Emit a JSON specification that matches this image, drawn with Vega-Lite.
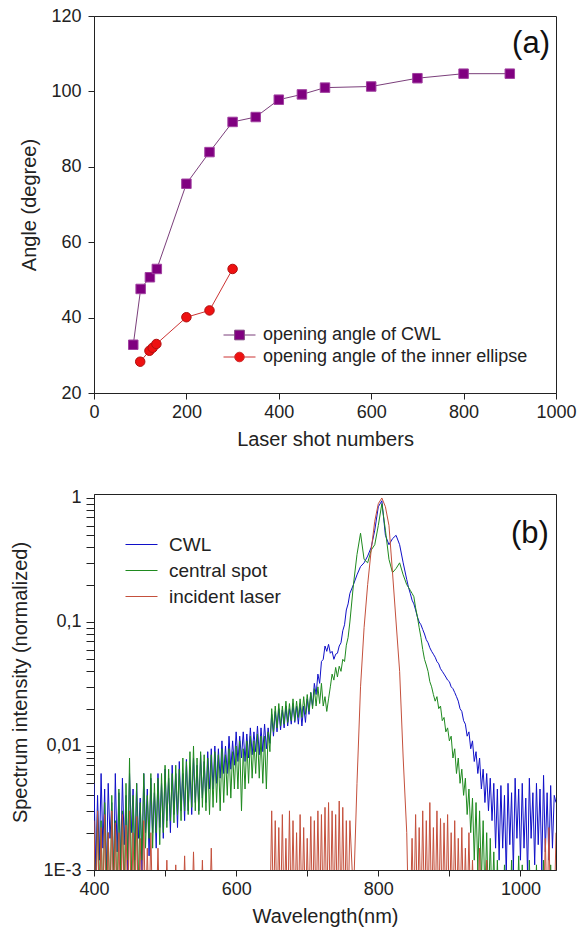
{
  "$schema": "https://vega.github.io/schema/vega-lite/v6.json",
  "padding": {"left": 10, "top": 6, "right": 5, "bottom": 5},
  "spacing": 38,
  "resolve": {
    "scale": {"color": "independent", "fill": "independent", "stroke": "independent", "shape": "independent"},
    "legend": {"color": "independent", "fill": "independent", "stroke": "independent", "shape": "independent"}
  },
  "config": {
    "font": "Liberation Sans",
    "view": {"stroke": "#222", "strokeWidth": 1},
    "axis": {"grid": false, "domainColor": "#222", "tickColor": "#222", "labelColor": "#222", "titleColor": "#222", "labelFont": "Liberation Sans", "titleFont": "Liberation Sans", "labelFontSize": 18, "titleFontSize": 20, "titleFontWeight": "normal", "tickSize": 6, "domainWidth": 1, "tickWidth": 1, "labelFlush": false},
    "legend": {"labelFont": "Liberation Sans", "labelColor": "#222", "labelLimit": 400}
  },
  "vconcat": [
    {
      "width": 462,
      "height": 377,
      "layer": [
        {
          "data": {"name": "angles", "values": [
            {"shots": 85, "angle": 32.8, "series": "opening angle of CWL"},
            {"shots": 101, "angle": 47.6, "series": "opening angle of CWL"},
            {"shots": 121, "angle": 50.7, "series": "opening angle of CWL"},
            {"shots": 136, "angle": 52.9, "series": "opening angle of CWL"},
            {"shots": 200, "angle": 75.5, "series": "opening angle of CWL"},
            {"shots": 250, "angle": 83.9, "series": "opening angle of CWL"},
            {"shots": 300, "angle": 91.9, "series": "opening angle of CWL"},
            {"shots": 350, "angle": 93.2, "series": "opening angle of CWL"},
            {"shots": 400, "angle": 97.8, "series": "opening angle of CWL"},
            {"shots": 450, "angle": 99.2, "series": "opening angle of CWL"},
            {"shots": 500, "angle": 101.0, "series": "opening angle of CWL"},
            {"shots": 600, "angle": 101.3, "series": "opening angle of CWL"},
            {"shots": 700, "angle": 103.5, "series": "opening angle of CWL"},
            {"shots": 800, "angle": 104.7, "series": "opening angle of CWL"},
            {"shots": 900, "angle": 104.7, "series": "opening angle of CWL"},
            {"shots": 100, "angle": 28.3, "series": "opening angle of the inner ellipse"},
            {"shots": 120, "angle": 31.2, "series": "opening angle of the inner ellipse"},
            {"shots": 127, "angle": 32.0, "series": "opening angle of the inner ellipse"},
            {"shots": 135, "angle": 33.0, "series": "opening angle of the inner ellipse"},
            {"shots": 200, "angle": 40.1, "series": "opening angle of the inner ellipse"},
            {"shots": 250, "angle": 41.9, "series": "opening angle of the inner ellipse"},
            {"shots": 300, "angle": 52.9, "series": "opening angle of the inner ellipse"}
          ]},
          "mark": {"type": "line", "strokeWidth": 1},
          "encoding": {
            "x": {"field": "shots", "type": "quantitative", "scale": {"domain": [0, 1000], "nice": false}, "axis": {"values": [0, 200, 400, 600, 800, 1000], "format": "d", "title": "Laser shot numbers", "labelPadding": 4, "titlePadding": 8}},
            "y": {"field": "angle", "type": "quantitative", "scale": {"domain": [20, 120], "nice": false, "zero": false}, "axis": {"values": [20, 40, 60, 80, 100, 120], "title": "Angle (degree)", "labelPadding": 7, "titlePadding": 11}},
            "color": {"field": "series", "type": "nominal", "scale": {"domain": ["opening angle of CWL", "opening angle of the inner ellipse"], "range": ["#7b3f7b", "#cc3333"]},
              "legend": {"orient": "none", "legendX": 136.5, "legendY": 310, "title": null, "labelFontSize": 18, "symbolType": "M-2,0H2", "symbolSize": 256, "symbolStrokeWidth": 1, "labelOffset": 14.5, "rowPadding": 4, "padding": 0,
                "encode": {"symbols": {"update": {
                  "shape": {"signal": "datum.value == 'opening angle of CWL' ? 'M-2,0H-0.6M0.6,0H2M-0.6,-0.6H0.6V0.6H-0.6Z' : 'M-2,0H-0.6M0.6,0H2M0.6,0A0.6,0.6 0 1,1 -0.6,0A0.6,0.6 0 1,1 0.6,0Z'"},
                  "fill": {"signal": "datum.value == 'opening angle of CWL' ? '#800080' : '#ee1111'"},
                  "stroke": {"signal": "datum.value == 'opening angle of CWL' ? '#7b3f7b' : '#cc3333'"},
                  "strokeWidth": {"value": 1},
                  "opacity": {"value": 1},
                  "fillOpacity": {"value": 1}
                }}}}}
          }
        },
        {
          "data": {"name": "angles"},
          "transform": [{"filter": "datum.series == 'opening angle of CWL'"}],
          "mark": {"type": "point", "shape": "square", "filled": true, "fill": "#800080", "stroke": "#a040a0", "size": 90, "strokeWidth": 1, "opacity": 1},
          "encoding": {
            "x": {"field": "shots", "type": "quantitative"},
            "y": {"field": "angle", "type": "quantitative"}
          }
        },
        {
          "data": {"name": "angles"},
          "transform": [{"filter": "datum.series == 'opening angle of the inner ellipse'"}],
          "mark": {"type": "point", "shape": "circle", "filled": true, "fill": "#ee1111", "stroke": "#b01010", "size": 90, "strokeWidth": 1, "opacity": 1},
          "encoding": {
            "x": {"field": "shots", "type": "quantitative"},
            "y": {"field": "angle", "type": "quantitative"}
          }
        },
        {
          "data": {"values": [{}]},
          "mark": {"type": "text", "text": "(a)", "fontSize": 31, "align": "right", "baseline": "alphabetic", "font": "Liberation Sans", "color": "#111"},
          "encoding": {"x": {"datum": 987}, "y": {"datum": 110.2}}
        }
      ]
    },
    {
      "width": 462,
      "height": 376,
      "layer": [
        {
          "data": {"values": [
            {"w": 400, "cwl": 0.005, "spot": 0.002, "laser": 0.0025},
            {"w": 402.5, "cwl": 0.001, "spot": 0.0005, "laser": 0.0004},
            {"w": 405, "cwl": 0.004, "spot": 0.003, "laser": 0.003},
            {"w": 407.5, "cwl": 0.0012, "spot": 0.0007, "laser": 0.0004},
            {"w": 410, "cwl": 0.006, "spot": 0.0025, "laser": 0.0022},
            {"w": 412.5, "cwl": 0.0015, "spot": 0.0004, "laser": 0.0005},
            {"w": 415, "cwl": 0.0045, "spot": 0.0035, "laser": 0.0028},
            {"w": 417.5, "cwl": 0.0009, "spot": 0.0008, "laser": 0.0004},
            {"w": 420, "cwl": 0.005, "spot": 0.002, "laser": 0.002},
            {"w": 422.5, "cwl": 0.0018, "spot": 0.0005, "laser": 0.0004},
            {"w": 425, "cwl": 0.0035, "spot": 0.004, "laser": 0.003},
            {"w": 427.5, "cwl": 0.0008, "spot": 0.0009, "laser": 0.0005},
            {"w": 430, "cwl": 0.006, "spot": 0.0025, "laser": 0.0024},
            {"w": 432.5, "cwl": 0.0014, "spot": 0.0005, "laser": 0.0004},
            {"w": 435, "cwl": 0.0042, "spot": 0.0045, "laser": 0.002},
            {"w": 437.5, "cwl": 0.0011, "spot": 0.001, "laser": 0.0004},
            {"w": 440, "cwl": 0.0055, "spot": 0.003, "laser": 0.0028},
            {"w": 442.5, "cwl": 0.0016, "spot": 0.0006, "laser": 0.0004},
            {"w": 445, "cwl": 0.004, "spot": 0.005, "laser": 0.0023},
            {"w": 447.5, "cwl": 0.001, "spot": 0.0012, "laser": 0.0005},
            {"w": 450, "cwl": 0.006, "spot": 0.008, "laser": 0.003},
            {"w": 452.5, "cwl": 0.002, "spot": 0.0008, "laser": 0.0004},
            {"w": 455, "cwl": 0.0045, "spot": 0.004, "laser": 0.002},
            {"w": 457.5, "cwl": 0.0012, "spot": 0.001, "laser": 0.0004},
            {"w": 460, "cwl": 0.005, "spot": 0.005, "laser": 0.0027},
            {"w": 462.5, "cwl": 0.0018, "spot": 0.0007, "laser": 0.0004},
            {"w": 465, "cwl": 0.0038, "spot": 0.0035, "laser": 0.0018},
            {"w": 467.5, "cwl": 0.001, "spot": 0.0012, "laser": 0.0004},
            {"w": 470, "cwl": 0.006, "spot": 0.006, "laser": 0.0025},
            {"w": 472.5, "cwl": 0.002, "spot": 0.0015, "laser": 0.0004},
            {"w": 475, "cwl": 0.0045, "spot": 0.004, "laser": 0.0015},
            {"w": 477.5, "cwl": 0.0013, "spot": 0.0018, "laser": 0.0004},
            {"w": 480, "cwl": 0.0055, "spot": 0.006, "laser": 0.002},
            {"w": 482.5, "cwl": 0.002, "spot": 0.0015, "laser": 0.0004},
            {"w": 485, "cwl": 0.0042, "spot": 0.005, "laser": 0.0004},
            {"w": 487.5, "cwl": 0.0015, "spot": 0.002, "laser": 0.0004},
            {"w": 490, "cwl": 0.006, "spot": 0.0055, "laser": 0.0015},
            {"w": 492.5, "cwl": 0.0022, "spot": 0.0016, "laser": 0.0004},
            {"w": 495, "cwl": 0.005, "spot": 0.006, "laser": 0.0004},
            {"w": 497.5, "cwl": 0.0018, "spot": 0.002, "laser": 0.0004},
            {"w": 500, "cwl": 0.0065, "spot": 0.007, "laser": 0.0004},
            {"w": 502.5, "cwl": 0.0025, "spot": 0.0022, "laser": 0.0012},
            {"w": 505, "cwl": 0.0055, "spot": 0.0065, "laser": 0.0004},
            {"w": 507.5, "cwl": 0.002, "spot": 0.0025, "laser": 0.0004},
            {"w": 510, "cwl": 0.007, "spot": 0.006, "laser": 0.0004},
            {"w": 512.5, "cwl": 0.0028, "spot": 0.0024, "laser": 0.0004},
            {"w": 515, "cwl": 0.006, "spot": 0.007, "laser": 0.0011},
            {"w": 517.5, "cwl": 0.0022, "spot": 0.0028, "laser": 0.0004},
            {"w": 520, "cwl": 0.0075, "spot": 0.0065, "laser": 0.0004},
            {"w": 522.5, "cwl": 0.003, "spot": 0.0025, "laser": 0.0004},
            {"w": 525, "cwl": 0.006, "spot": 0.008, "laser": 0.0004},
            {"w": 527.5, "cwl": 0.0025, "spot": 0.003, "laser": 0.0013},
            {"w": 530, "cwl": 0.0078, "spot": 0.0075, "laser": 0.0004},
            {"w": 532.5, "cwl": 0.003, "spot": 0.0028, "laser": 0.0004},
            {"w": 535, "cwl": 0.0065, "spot": 0.009, "laser": 0.0004},
            {"w": 537.5, "cwl": 0.0028, "spot": 0.0032, "laser": 0.0004},
            {"w": 540, "cwl": 0.008, "spot": 0.01, "laser": 0.0014},
            {"w": 542.5, "cwl": 0.0035, "spot": 0.003, "laser": 0.0004},
            {"w": 545, "cwl": 0.007, "spot": 0.008, "laser": 0.0004},
            {"w": 547.5, "cwl": 0.003, "spot": 0.0028, "laser": 0.0004},
            {"w": 550, "cwl": 0.0085, "spot": 0.009, "laser": 0.0004},
            {"w": 552.5, "cwl": 0.0038, "spot": 0.0032, "laser": 0.0012},
            {"w": 555, "cwl": 0.0075, "spot": 0.0085, "laser": 0.0004},
            {"w": 557.5, "cwl": 0.0035, "spot": 0.003, "laser": 0.0004},
            {"w": 560, "cwl": 0.009, "spot": 0.008, "laser": 0.0004},
            {"w": 562.5, "cwl": 0.0045, "spot": 0.0028, "laser": 0.0004},
            {"w": 565, "cwl": 0.0095, "spot": 0.0085, "laser": 0.0015},
            {"w": 567.5, "cwl": 0.0045, "spot": 0.0032, "laser": 0.0004},
            {"w": 570, "cwl": 0.01, "spot": 0.009, "laser": 0.0004},
            {"w": 572.5, "cwl": 0.005, "spot": 0.0035, "laser": 0.0004},
            {"w": 575, "cwl": 0.0095, "spot": 0.0085, "laser": 0.0004},
            {"w": 577.5, "cwl": 0.0055, "spot": 0.003, "laser": 0.0004},
            {"w": 580, "cwl": 0.011, "spot": 0.0095, "laser": 0.0004},
            {"w": 582.5, "cwl": 0.006, "spot": 0.0035, "laser": 0.0004},
            {"w": 585, "cwl": 0.01, "spot": 0.0085, "laser": 0.0004},
            {"w": 587.5, "cwl": 0.006, "spot": 0.004, "laser": 0.0004},
            {"w": 590, "cwl": 0.012, "spot": 0.0095, "laser": 0.0004},
            {"w": 592.5, "cwl": 0.0065, "spot": 0.0038, "laser": 0.0004},
            {"w": 595, "cwl": 0.011, "spot": 0.009, "laser": 0.0004},
            {"w": 597.5, "cwl": 0.007, "spot": 0.0045, "laser": 0.0004},
            {"w": 600, "cwl": 0.013, "spot": 0.01, "laser": 0.0004},
            {"w": 602.5, "cwl": 0.0075, "spot": 0.0045, "laser": 0.0004},
            {"w": 605, "cwl": 0.012, "spot": 0.011, "laser": 0.0004},
            {"w": 607.5, "cwl": 0.008, "spot": 0.003, "laser": 0.0004},
            {"w": 610, "cwl": 0.013, "spot": 0.0095, "laser": 0.0004},
            {"w": 612.5, "cwl": 0.0075, "spot": 0.0045, "laser": 0.0004},
            {"w": 615, "cwl": 0.0125, "spot": 0.011, "laser": 0.0004},
            {"w": 617.5, "cwl": 0.008, "spot": 0.005, "laser": 0.0004},
            {"w": 620, "cwl": 0.014, "spot": 0.012, "laser": 0.0004},
            {"w": 622.5, "cwl": 0.0085, "spot": 0.0055, "laser": 0.0004},
            {"w": 625, "cwl": 0.013, "spot": 0.011, "laser": 0.0004},
            {"w": 627.5, "cwl": 0.009, "spot": 0.006, "laser": 0.0004},
            {"w": 630, "cwl": 0.0145, "spot": 0.0125, "laser": 0.0004},
            {"w": 632.5, "cwl": 0.0085, "spot": 0.0055, "laser": 0.0004},
            {"w": 635, "cwl": 0.014, "spot": 0.012, "laser": 0.0004},
            {"w": 637.5, "cwl": 0.009, "spot": 0.005, "laser": 0.0004},
            {"w": 640, "cwl": 0.015, "spot": 0.012, "laser": 0.0004},
            {"w": 642.5, "cwl": 0.0095, "spot": 0.0045, "laser": 0.0004},
            {"w": 645, "cwl": 0.014, "spot": 0.013, "laser": 0.0004},
            {"w": 647.5, "cwl": 0.0105, "spot": 0.009, "laser": 0.0004},
            {"w": 650, "cwl": 0.018, "spot": 0.02, "laser": 0.003},
            {"w": 652.5, "cwl": 0.012, "spot": 0.013, "laser": 0.0004},
            {"w": 655, "cwl": 0.019, "spot": 0.021, "laser": 0.0025},
            {"w": 657.5, "cwl": 0.013, "spot": 0.014, "laser": 0.0004},
            {"w": 660, "cwl": 0.02, "spot": 0.022, "laser": 0.0022},
            {"w": 662.5, "cwl": 0.0135, "spot": 0.0145, "laser": 0.0004},
            {"w": 665, "cwl": 0.0195, "spot": 0.021, "laser": 0.0028},
            {"w": 667.5, "cwl": 0.014, "spot": 0.015, "laser": 0.0004},
            {"w": 670, "cwl": 0.021, "spot": 0.023, "laser": 0.0018},
            {"w": 672.5, "cwl": 0.0145, "spot": 0.0155, "laser": 0.0004},
            {"w": 675, "cwl": 0.02, "spot": 0.022, "laser": 0.003},
            {"w": 677.5, "cwl": 0.015, "spot": 0.016, "laser": 0.0004},
            {"w": 680, "cwl": 0.022, "spot": 0.024, "laser": 0.0025},
            {"w": 682.5, "cwl": 0.0155, "spot": 0.016, "laser": 0.0004},
            {"w": 685, "cwl": 0.021, "spot": 0.023, "laser": 0.002},
            {"w": 687.5, "cwl": 0.015, "spot": 0.017, "laser": 0.0004},
            {"w": 690, "cwl": 0.022, "spot": 0.024, "laser": 0.0028},
            {"w": 692.5, "cwl": 0.0145, "spot": 0.017, "laser": 0.0004},
            {"w": 695, "cwl": 0.021, "spot": 0.025, "laser": 0.0022},
            {"w": 697.5, "cwl": 0.0155, "spot": 0.018, "laser": 0.0004},
            {"w": 700, "cwl": 0.024, "spot": 0.026, "laser": 0.0018},
            {"w": 702.5, "cwl": 0.018, "spot": 0.019, "laser": 0.0004},
            {"w": 705, "cwl": 0.027, "spot": 0.027, "laser": 0.0027},
            {"w": 707.5, "cwl": 0.021, "spot": 0.02, "laser": 0.0004},
            {"w": 710, "cwl": 0.032, "spot": 0.029, "laser": 0.0025},
            {"w": 712.5, "cwl": 0.026, "spot": 0.021, "laser": 0.0004},
            {"w": 715, "cwl": 0.038, "spot": 0.03, "laser": 0.003},
            {"w": 717.5, "cwl": 0.032, "spot": 0.022, "laser": 0.0004},
            {"w": 720, "cwl": 0.048, "spot": 0.032, "laser": 0.0028},
            {"w": 722.5, "cwl": 0.05, "spot": 0.021, "laser": 0.0004},
            {"w": 725, "cwl": 0.064, "spot": 0.025, "laser": 0.0032},
            {"w": 727.5, "cwl": 0.058, "spot": 0.019, "laser": 0.0004},
            {"w": 730, "cwl": 0.066, "spot": 0.024, "laser": 0.0035},
            {"w": 732.5, "cwl": 0.056, "spot": 0.03, "laser": 0.0004},
            {"w": 735, "cwl": 0.058, "spot": 0.038, "laser": 0.003},
            {"w": 737.5, "cwl": 0.05, "spot": 0.034, "laser": 0.0004},
            {"w": 740, "cwl": 0.055, "spot": 0.043, "laser": 0.0028},
            {"w": 742.5, "cwl": 0.056, "spot": 0.036, "laser": 0.0004},
            {"w": 745, "cwl": 0.064, "spot": 0.044, "laser": 0.0036},
            {"w": 747.5, "cwl": 0.068, "spot": 0.04, "laser": 0.0004},
            {"w": 750, "cwl": 0.085, "spot": 0.05, "laser": 0.0032},
            {"w": 752.5, "cwl": 0.095, "spot": 0.048, "laser": 0.0004},
            {"w": 755, "cwl": 0.125, "spot": 0.065, "laser": 0.0025},
            {"w": 757.5, "cwl": 0.14, "spot": 0.075, "laser": 0.0004},
            {"w": 760, "cwl": 0.17, "spot": 0.1, "laser": 0.0025},
            {"w": 765, "cwl": 0.2, "spot": 0.2, "laser": 0.0006},
            {"w": 770, "cwl": 0.24, "spot": 0.35, "laser": 0.005},
            {"w": 775, "cwl": 0.28, "spot": 0.52, "laser": 0.03},
            {"w": 780, "cwl": 0.3, "spot": 0.32, "laser": 0.09},
            {"w": 785, "cwl": 0.34, "spot": 0.3, "laser": 0.2},
            {"w": 790, "cwl": 0.4, "spot": 0.38, "laser": 0.38},
            {"w": 795, "cwl": 0.55, "spot": 0.42, "laser": 0.65},
            {"w": 800, "cwl": 0.85, "spot": 0.6, "laser": 0.9},
            {"w": 805, "cwl": 0.95, "spot": 0.9, "laser": 1.0},
            {"w": 810, "cwl": 0.5, "spot": 0.55, "laser": 0.85},
            {"w": 815, "cwl": 0.42, "spot": 0.32, "laser": 0.6},
            {"w": 820, "cwl": 0.47, "spot": 0.25, "laser": 0.25},
            {"w": 825, "cwl": 0.5, "spot": 0.27, "laser": 0.1},
            {"w": 830, "cwl": 0.42, "spot": 0.3, "laser": 0.04},
            {"w": 835, "cwl": 0.3, "spot": 0.24, "laser": 0.008},
            {"w": 840, "cwl": 0.22, "spot": 0.2, "laser": 0.002},
            {"w": 842.5, "cwl": 0.19, "spot": 0.19, "laser": 0.0004},
            {"w": 845, "cwl": 0.17, "spot": 0.18, "laser": 0.0004},
            {"w": 847.5, "cwl": 0.15, "spot": 0.17, "laser": 0.0018},
            {"w": 850, "cwl": 0.14, "spot": 0.16, "laser": 0.0004},
            {"w": 852.5, "cwl": 0.125, "spot": 0.13, "laser": 0.0028},
            {"w": 855, "cwl": 0.11, "spot": 0.11, "laser": 0.0004},
            {"w": 857.5, "cwl": 0.1, "spot": 0.09, "laser": 0.0022},
            {"w": 860, "cwl": 0.095, "spot": 0.075, "laser": 0.0004},
            {"w": 862.5, "cwl": 0.087, "spot": 0.06, "laser": 0.003},
            {"w": 865, "cwl": 0.08, "spot": 0.05, "laser": 0.0004},
            {"w": 867.5, "cwl": 0.072, "spot": 0.045, "laser": 0.0025},
            {"w": 870, "cwl": 0.068, "spot": 0.04, "laser": 0.0004},
            {"w": 872.5, "cwl": 0.062, "spot": 0.033, "laser": 0.0035},
            {"w": 875, "cwl": 0.058, "spot": 0.03, "laser": 0.0004},
            {"w": 877.5, "cwl": 0.055, "spot": 0.026, "laser": 0.0022},
            {"w": 880, "cwl": 0.052, "spot": 0.023, "laser": 0.0004},
            {"w": 882.5, "cwl": 0.048, "spot": 0.025, "laser": 0.003},
            {"w": 885, "cwl": 0.046, "spot": 0.02, "laser": 0.0004},
            {"w": 887.5, "cwl": 0.042, "spot": 0.021, "laser": 0.0026},
            {"w": 890, "cwl": 0.04, "spot": 0.016, "laser": 0.0004},
            {"w": 892.5, "cwl": 0.038, "spot": 0.017, "laser": 0.0024},
            {"w": 895, "cwl": 0.036, "spot": 0.013, "laser": 0.0004},
            {"w": 897.5, "cwl": 0.034, "spot": 0.014, "laser": 0.0028},
            {"w": 900, "cwl": 0.033, "spot": 0.011, "laser": 0.0004},
            {"w": 902.5, "cwl": 0.03, "spot": 0.012, "laser": 0.002},
            {"w": 905, "cwl": 0.029, "spot": 0.008, "laser": 0.0004},
            {"w": 907.5, "cwl": 0.027, "spot": 0.0095, "laser": 0.0025},
            {"w": 910, "cwl": 0.025, "spot": 0.006, "laser": 0.0004},
            {"w": 912.5, "cwl": 0.023, "spot": 0.008, "laser": 0.0018},
            {"w": 915, "cwl": 0.02, "spot": 0.005, "laser": 0.0004},
            {"w": 917.5, "cwl": 0.019, "spot": 0.0065, "laser": 0.0022},
            {"w": 920, "cwl": 0.016, "spot": 0.004, "laser": 0.0004},
            {"w": 922.5, "cwl": 0.015, "spot": 0.0055, "laser": 0.0015},
            {"w": 925, "cwl": 0.012, "spot": 0.0028, "laser": 0.0004},
            {"w": 927.5, "cwl": 0.013, "spot": 0.0045, "laser": 0.002},
            {"w": 930, "cwl": 0.0095, "spot": 0.002, "laser": 0.0004},
            {"w": 932.5, "cwl": 0.011, "spot": 0.0038, "laser": 0.0012},
            {"w": 935, "cwl": 0.0075, "spot": 0.0012, "laser": 0.0004},
            {"w": 937.5, "cwl": 0.009, "spot": 0.0035, "laser": 0.0004},
            {"w": 940, "cwl": 0.006, "spot": 0.001, "laser": 0.0004},
            {"w": 942.5, "cwl": 0.008, "spot": 0.003, "laser": 0.0015},
            {"w": 945, "cwl": 0.0045, "spot": 0.0008, "laser": 0.0004},
            {"w": 947.5, "cwl": 0.0065, "spot": 0.0025, "laser": 0.0004},
            {"w": 950, "cwl": 0.0035, "spot": 0.0006, "laser": 0.0004},
            {"w": 952.5, "cwl": 0.006, "spot": 0.002, "laser": 0.0012},
            {"w": 955, "cwl": 0.003, "spot": 0.0005, "laser": 0.0004},
            {"w": 957.5, "cwl": 0.0055, "spot": 0.0018, "laser": 0.0004},
            {"w": 960, "cwl": 0.0025, "spot": 0.0005, "laser": 0.0004},
            {"w": 962.5, "cwl": 0.005, "spot": 0.0014, "laser": 0.0004},
            {"w": 965, "cwl": 0.0015, "spot": 0.0004, "laser": 0.0004},
            {"w": 967.5, "cwl": 0.0045, "spot": 0.0012, "laser": 0.0004},
            {"w": 970, "cwl": 0.0012, "spot": 0.0004, "laser": 0.0004},
            {"w": 972.5, "cwl": 0.0048, "spot": 0.001, "laser": 0.0004},
            {"w": 975, "cwl": 0.0015, "spot": 0.0004, "laser": 0.0004},
            {"w": 977.5, "cwl": 0.004, "spot": 0.0011, "laser": 0.0004},
            {"w": 980, "cwl": 0.0009, "spot": 0.0004, "laser": 0.0004},
            {"w": 982.5, "cwl": 0.005, "spot": 0.0009, "laser": 0.0004},
            {"w": 985, "cwl": 0.0016, "spot": 0.0004, "laser": 0.0004},
            {"w": 987.5, "cwl": 0.0042, "spot": 0.0012, "laser": 0.0004},
            {"w": 990, "cwl": 0.001, "spot": 0.0004, "laser": 0.0004},
            {"w": 992.5, "cwl": 0.0055, "spot": 0.001, "laser": 0.0004},
            {"w": 995, "cwl": 0.0018, "spot": 0.0004, "laser": 0.0004},
            {"w": 997.5, "cwl": 0.0045, "spot": 0.0013, "laser": 0.0004},
            {"w": 1000, "cwl": 0.0012, "spot": 0.0004, "laser": 0.0004},
            {"w": 1002.5, "cwl": 0.005, "spot": 0.0011, "laser": 0.0004},
            {"w": 1005, "cwl": 0.0015, "spot": 0.0004, "laser": 0.0004},
            {"w": 1007.5, "cwl": 0.0038, "spot": 0.001, "laser": 0.0004},
            {"w": 1010, "cwl": 0.0009, "spot": 0.0004, "laser": 0.0004},
            {"w": 1012.5, "cwl": 0.0055, "spot": 0.0012, "laser": 0.0004},
            {"w": 1015, "cwl": 0.0018, "spot": 0.0004, "laser": 0.0004},
            {"w": 1017.5, "cwl": 0.0042, "spot": 0.001, "laser": 0.0004},
            {"w": 1020, "cwl": 0.0011, "spot": 0.0004, "laser": 0.0004},
            {"w": 1022.5, "cwl": 0.005, "spot": 0.0011, "laser": 0.0004},
            {"w": 1025, "cwl": 0.0016, "spot": 0.0004, "laser": 0.0004},
            {"w": 1027.5, "cwl": 0.0045, "spot": 0.0009, "laser": 0.0004},
            {"w": 1030, "cwl": 0.001, "spot": 0.0004, "laser": 0.0004},
            {"w": 1032.5, "cwl": 0.0058, "spot": 0.0012, "laser": 0.0004},
            {"w": 1035, "cwl": 0.0014, "spot": 0.0004, "laser": 0.0018},
            {"w": 1037.5, "cwl": 0.0042, "spot": 0.001, "laser": 0.0004},
            {"w": 1040, "cwl": 0.0012, "spot": 0.0004, "laser": 0.0022},
            {"w": 1042.5, "cwl": 0.0048, "spot": 0.0011, "laser": 0.0004},
            {"w": 1045, "cwl": 0.0015, "spot": 0.0004, "laser": 0.0004},
            {"w": 1047.5, "cwl": 0.004, "spot": 0.001, "laser": 0.0004},
            {"w": 1050, "cwl": 0.0035, "spot": 0.0009, "laser": 0.002}
          ]},
          "transform": [{"fold": ["cwl", "spot", "laser"], "as": ["series", "val"]}],
          "mark": {"type": "line", "strokeWidth": 1, "clip": true},
          "encoding": {
            "x": {"field": "w", "type": "quantitative", "scale": {"domain": [400, 1050], "nice": false}, "axis": {"values": [400, 500, 600, 700, 800, 900, 1000], "labelExpr": "datum.value % 200 == 0 ? datum.value : ''", "title": "Wavelength(nm)", "labelPadding": 4, "titlePadding": 8}},
            "y": {"field": "val", "type": "quantitative", "scale": {"type": "log", "domain": [0.001, 1.077], "nice": false},
              "axis": {"values": [0.001, 0.002, 0.003, 0.004, 0.005, 0.006, 0.007, 0.008, 0.009, 0.01, 0.02, 0.03, 0.04, 0.05, 0.06, 0.07, 0.08, 0.09, 0.1, 0.2, 0.3, 0.4, 0.5, 0.6, 0.7, 0.8, 0.9, 1],
                "labelExpr": "datum.value == 1 ? '1' : datum.value == 0.1 ? '0,1' : datum.value == 0.01 ? '0,01' : datum.value == 0.001 ? '1E-3' : ''",
                "title": "Spectrum intensity (normalized)", "tickSize": 8, "labelPadding": 5, "titlePadding": 12,
                "encode": {"ticks": {"update": {"x2": {"signal": "(datum.value == 1 || datum.value == 0.1 || datum.value == 0.01 || datum.value == 0.001) ? -8 : -4"}}}}}},
            "color": {"field": "series", "type": "nominal", "scale": {"domain": ["cwl", "spot", "laser"], "range": ["#1010c8", "#1f8a1f", "#c4503c"]},
              "legend": {"orient": "none", "legendX": 38, "legendY": 41, "title": null, "labelFontSize": 19, "symbolType": "M-2,0H2", "symbolSize": 256, "symbolStrokeWidth": 1, "labelOffset": 18, "rowPadding": 6, "padding": 0,
                "labelExpr": "datum.label == 'cwl' ? 'CWL' : datum.label == 'spot' ? 'central spot' : 'incident laser'"}}
          }
        },
        {
          "data": {"values": [{}]},
          "mark": {"type": "text", "text": "(b)", "fontSize": 31, "align": "right", "baseline": "alphabetic", "font": "Liberation Sans", "color": "#111"},
          "encoding": {"x": {"datum": 1040}, "y": {"datum": 0.434}}
        }
      ]
    }
  ]
}
